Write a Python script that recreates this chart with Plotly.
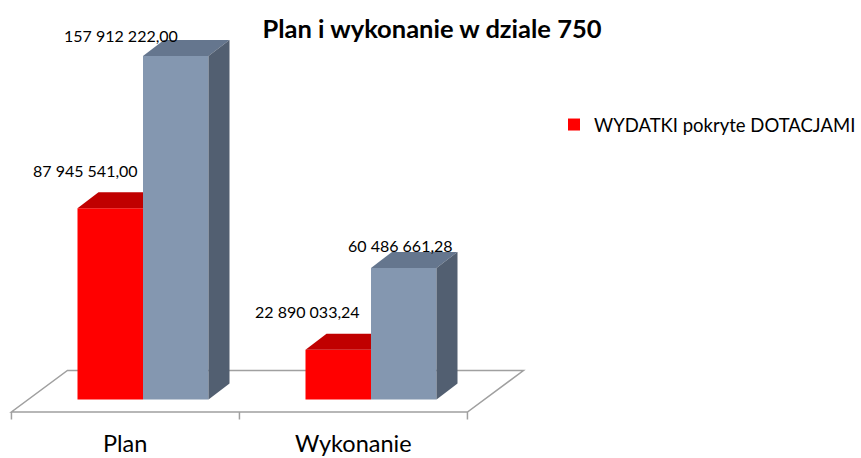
import plotly.graph_objects as go

# ---------------- data ----------------
categories = ["Plan", "Wykonanie"]
series_names = ["WYDATKI pokryte DOTACJAMI", ""]
red_values = [87945541.00, 22890033.24]
blue_values = [157912222.00, 60486661.28]
title_text = "Plan i wykonanie w dziale 750"

# ---------------- geometry / style ----------------
W, H = 861, 458
X_PX0 = 143.0          # pixel of x = 0 (first category bar group)
X_PX_PER_UNIT = 228.0  # pixels per category
Y_PX0 = 399.5          # pixel of value 0
Y_PX_PER_VAL = 343.5 / 157912222.0

BAR_W = 65.5 / X_PX_PER_UNIT
DEPTH_DX = 21 / X_PX_PER_UNIT
DEPTH_DY = 16 / Y_PX_PER_VAL
CAT_SHIFT = -0.077     # category slot centre relative to bar group (perspective)

FONT = "Lato"
RED, RED_TOP = "#ff0000", "#c00000"
BLUE, BLUE_TOP, BLUE_SIDE = "#8497b0", "#65768e", "#525f71"
GRID = "#a0a0a0"

xr = [(0 - X_PX0) / X_PX_PER_UNIT, (W - X_PX0) / X_PX_PER_UNIT]
yr = [-(H - Y_PX0) / Y_PX_PER_VAL, Y_PX0 / Y_PX_PER_VAL]


def fmt(v):
    s = f"{v:,.2f}"
    return s.replace(",", " ").replace(".", ",")


xs = list(range(len(categories)))

fig = go.Figure()
fig.add_trace(go.Bar(x=xs, y=red_values, width=BAR_W, offset=-BAR_W,
                     marker=dict(color=RED, line=dict(width=0)),
                     name=series_names[0], showlegend=True, hoverinfo="skip"))
fig.add_trace(go.Bar(x=xs, y=blue_values, width=BAR_W, offset=0,
                     marker=dict(color=BLUE, line=dict(width=0)),
                     name=series_names[1], showlegend=False, hoverinfo="skip"))

shapes = []


def path(pts):
    return "M " + " L ".join(f"{x},{y}" for x, y in pts) + " Z"


# floor (3D axis plane)
fx0 = -0.5 + CAT_SHIFT
fx1 = len(categories) - 0.5 + CAT_SHIFT
fy = -12.5 / Y_PX_PER_VAL
fdx = 56 / X_PX_PER_UNIT
fdy = 41.5 / Y_PX_PER_VAL
shapes.append(dict(type="path", xref="x", yref="y", layer="below",
                   path=path([(fx0, fy), (fx1, fy), (fx1 + fdx, fy + fdy), (fx0 + fdx, fy + fdy)]),
                   fillcolor="white", line=dict(color=GRID, width=1.5)))
for k in range(len(categories) + 1):
    tx = fx0 + k * (fx1 - fx0) / len(categories)
    shapes.append(dict(type="line", xref="x", yref="y", layer="below",
                       x0=tx, x1=tx, y0=fy, y1=fy - 7.5 / Y_PX_PER_VAL,
                       line=dict(color=GRID, width=1.5)))

for i, x in enumerate(xs):
    r, b = red_values[i], blue_values[i]
    xl, xm, xrr = x - BAR_W, x, x + BAR_W
    # red top (clipped by the blue bar in front of its right part)
    shapes.append(dict(type="path", xref="x", yref="y", layer="above",
                       path=path([(xl, r), (xl + DEPTH_DX, r + DEPTH_DY), (xm, r + DEPTH_DY), (xm, r)]),
                       fillcolor=RED_TOP, line=dict(width=0)))
    # blue top
    shapes.append(dict(type="path", xref="x", yref="y", layer="above",
                       path=path([(xm, b), (xm + DEPTH_DX, b + DEPTH_DY), (xrr + DEPTH_DX, b + DEPTH_DY), (xrr, b)]),
                       fillcolor=BLUE_TOP, line=dict(width=0)))
    # blue side
    shapes.append(dict(type="path", xref="x", yref="y", layer="above",
                       path=path([(xrr, 0), (xrr, b), (xrr + DEPTH_DX, b + DEPTH_DY), (xrr + DEPTH_DX, DEPTH_DY)]),
                       fillcolor=BLUE_SIDE, line=dict(width=0)))

annotations = []
# data labels (offsets in pixels from front-top centre of each bar)
red_label_shift = [(-24.5, 38), (-30.5, 38)]
blue_label_shift = [(-55, 20.5), (-3, 22)]
for i, x in enumerate(xs):
    annotations.append(dict(x=x - BAR_W / 2, y=red_values[i], xref="x", yref="y",
                            text=fmt(red_values[i]), showarrow=False,
                            xshift=red_label_shift[i][0], yshift=red_label_shift[i][1],
                            font=dict(family=FONT, size=16, color="#000000")))
    annotations.append(dict(x=x + BAR_W / 2, y=blue_values[i], xref="x", yref="y",
                            text=fmt(blue_values[i]), showarrow=False,
                            xshift=blue_label_shift[i][0], yshift=blue_label_shift[i][1],
                            font=dict(family=FONT, size=16, color="#000000")))
# category labels
for i, c in enumerate(categories):
    annotations.append(dict(x=i + CAT_SHIFT, y=1 - 443 / H, xref="x", yref="paper",
                            text=c, showarrow=False, yanchor="middle",
                            font=dict(family=FONT, size=23.5, color="#000000")))

fig.update_layout(
    width=W, height=H, autosize=False,
    margin=dict(l=0, r=0, t=0, b=0, pad=0),
    paper_bgcolor="white", plot_bgcolor="white",
    xaxis=dict(range=xr, visible=False, fixedrange=True),
    yaxis=dict(range=yr, visible=False, fixedrange=True),
    barmode="overlay",
    title=dict(text="<b>" + title_text + "</b>", x=432 / W, y=1 - 29 / H,
               xanchor="center", yanchor="middle", xref="paper", yref="container",
               font=dict(family=FONT, size=25.5, color="#000000")),
    legend=dict(x=1, y=1 - 125 / H, xanchor="right", yanchor="middle",
                font=dict(family=FONT, size=18.5, color="#000000"),
                bgcolor="rgba(0,0,0,0)", borderwidth=0),
    shapes=shapes,
    annotations=annotations,
    showlegend=True,
)

fig.write_html("out.html", config={"displayModeBar": False},
               post_script="document.body.style.margin='0';document.body.style.overflow='hidden';")
